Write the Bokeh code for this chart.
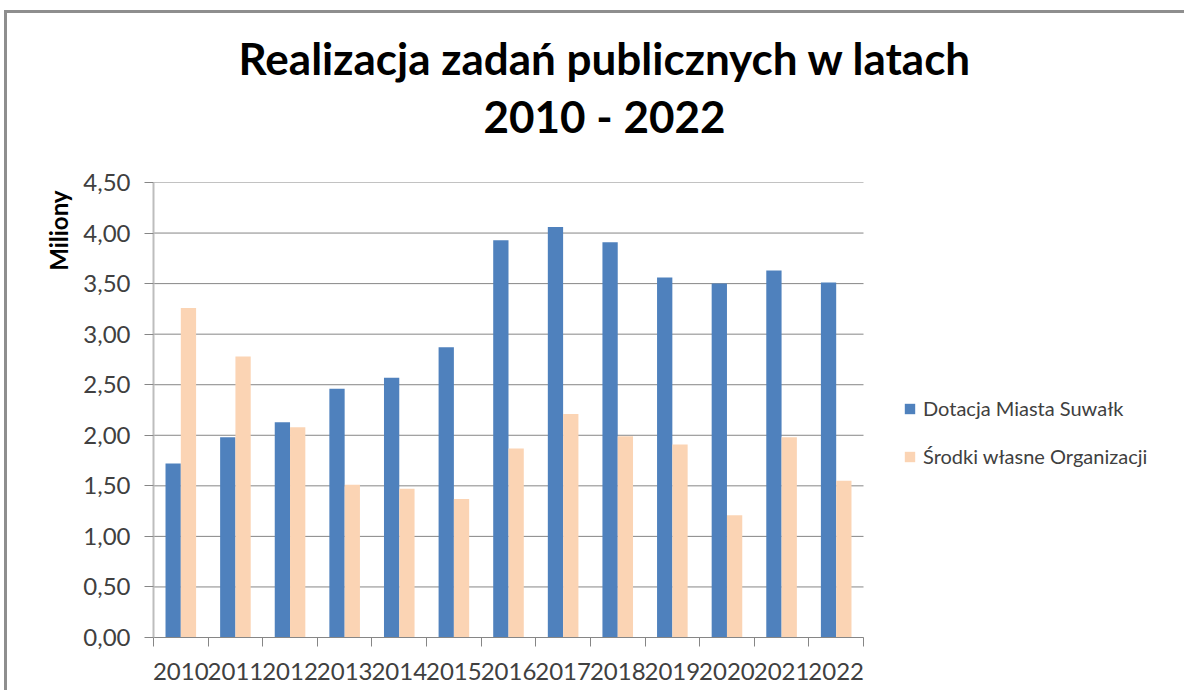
from bokeh.plotting import figure
from bokeh.models import (FixedTicker, CustomJSTickFormatter, Legend, LegendItem,
                          Range1d, Title)
from bokeh.embed import file_html
from bokeh.resources import INLINE

years = ["2010", "2011", "2012", "2013", "2014", "2015", "2016",
         "2017", "2018", "2019", "2020", "2021", "2022"]
dotacja = [1.72, 1.98, 2.13, 2.46, 2.57, 2.87, 3.93, 4.06, 3.91, 3.56, 3.50, 3.63, 3.51]
srodki = [3.26, 2.78, 2.08, 1.51, 1.47, 1.37, 1.87, 2.21, 1.99, 1.91, 1.21, 1.98, 1.55]
y_ticks = [0.0, 0.5, 1.0, 1.5, 2.0, 2.5, 3.0, 3.5, 4.0, 4.5]
series_names = ["Dotacja Miasta Suwałk", "Środki własne Organizacji"]
title_lines = ["Realizacja zadań publicznych w latach", "2010 - 2022"]
y_title = "Miliony"

BLUE = "#4F81BD"
PEACH = "#FBD4B4"
FONT = "Lato"
TXT = "#404040"
GRID = "#868686"

n = len(years)
bw = 0.28
centers = [i + 0.5 for i in range(n)]
x_blue = [c - bw / 2 for c in centers]
x_peach = [c + bw / 2 for c in centers]

# layout (canvas pixels)
W, H = 1180, 680
LEFT, TOP, BOTTOM, RIGHT = 146, 169, 56, 0
PLOT_W = 710                      # width of the category area
frame_w = W - LEFT - RIGHT
x_end = n * frame_w / PLOT_W      # extra room on the right holds the legend

p = figure(width=W, height=H, output_backend="svg", toolbar_location=None,
           x_range=Range1d(0, x_end), y_range=Range1d(0, 4.5),
           min_border_left=LEFT, min_border_right=RIGHT, min_border_top=TOP,
           min_border_bottom=BOTTOM)
# chart-area frame: only its top and left edges show
p.styles = {"margin-top": "13px", "margin-left": "7px",
            "box-shadow": "-3px -3px 0 0 #8e8e8e"}
p.outline_line_color = None
p.background_fill_color = "white"
p.border_fill_color = "white"

# horizontal gridlines over the category area only
p.segment(x0=[0] * len(y_ticks), x1=[n] * len(y_ticks), y0=y_ticks, y1=y_ticks,
          line_color=GRID, line_width=1)

r1 = p.vbar(x=x_blue, top=dotacja, width=bw, fill_color=BLUE, line_color=None)
r2 = p.vbar(x=x_peach, top=srodki, width=bw, fill_color=PEACH, line_color=None)

# y axis
p.yaxis.ticker = FixedTicker(ticks=y_ticks)
p.yaxis.formatter = CustomJSTickFormatter(code="return tick.toFixed(2).replace('.', ',');")
p.yaxis.major_tick_out = 9
p.yaxis.major_tick_in = 0
p.yaxis.minor_tick_line_color = None
p.yaxis.major_tick_line_color = GRID
p.yaxis.axis_line_color = "#bdbdbd"
p.yaxis.axis_line_width = 2
p.yaxis.major_label_standoff = 14
p.yaxis.major_label_text_font = FONT
p.yaxis.major_label_text_font_size = "24px"
p.yaxis.major_label_text_color = TXT

# x axis
p.xaxis.bounds = (0, n)
p.xaxis.ticker = FixedTicker(ticks=centers, minor_ticks=list(range(n + 1)))
p.xaxis.major_label_overrides = {c: y for c, y in zip(centers, years)}
p.xaxis.major_tick_line_color = None
p.xaxis.major_tick_out = 0
p.xaxis.major_tick_in = 0
p.xaxis.minor_tick_out = 9
p.xaxis.minor_tick_in = 0
p.xaxis.minor_tick_line_color = GRID
p.xaxis.axis_line_color = GRID
p.xaxis.major_label_standoff = 16
p.xaxis.major_label_text_font = FONT
p.xaxis.major_label_text_font_size = "24px"
p.xaxis.major_label_text_color = TXT

p.xgrid.grid_line_color = None
p.ygrid.grid_line_color = None

# titles (first added = closest to the frame); a blank spacer first
p.add_layout(Title(text=" ", standoff=26, text_font_size="10px"), "above")
p.add_layout(Title(text=title_lines[1], align="left", offset=330, standoff=4,
                   text_font=FONT, text_font_style="bold", text_font_size="44px",
                   text_color="black"), "above")
p.add_layout(Title(text=title_lines[0], align="left", offset=85, standoff=4,
                   text_font=FONT, text_font_style="bold", text_font_size="44px",
                   text_color="black"), "above")
p.add_layout(Title(text=y_title, align="right", offset=8, standoff=16,
                   text_font=FONT, text_font_style="bold", text_font_size="24px",
                   text_color="black"), "left")

legend = Legend(items=[LegendItem(label=series_names[0], renderers=[r1]),
                       LegendItem(label=series_names[1], renderers=[r2])],
                location=(750, 169), padding=10,
                glyph_width=13, glyph_height=13, label_height=20, spacing=24,
                label_standoff=7, label_text_font=FONT, label_text_font_size="20px",
                label_text_color=TXT, border_line_color=None,
                background_fill_color=None)
p.add_layout(legend)

open("out.html", "w").write(file_html(p, INLINE))
